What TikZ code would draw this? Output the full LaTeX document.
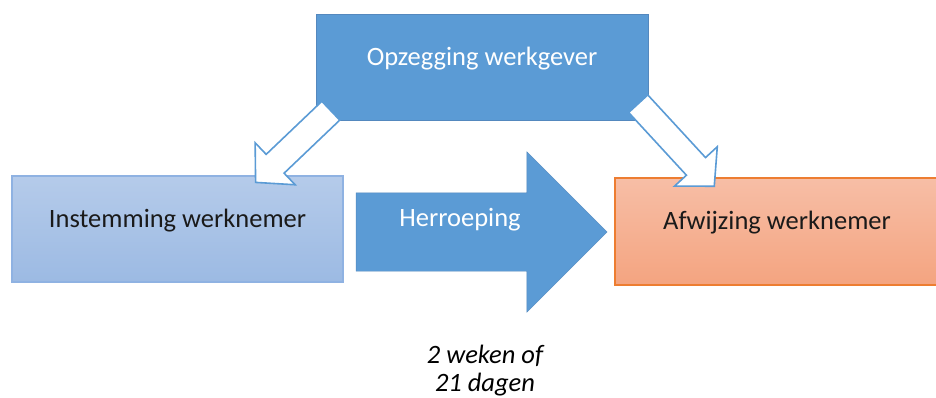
\documentclass[tikz,border=0pt]{standalone}
\usepackage{fontspec}
\setmainfont{Carlito}
\usetikzlibrary{arrows.meta, positioning, shapes.arrows, calc}
\definecolor{oBlue}    {RGB}{91,155,213}
\definecolor{oBlueDk}  {RGB}{84,136,190}
\definecolor{lBlueTop} {RGB}{181,203,234}
\definecolor{lBlueBot} {RGB}{156,186,227}
\definecolor{lBlueLine}{RGB}{143,178,226}
\definecolor{lOrTop}   {RGB}{247,190,166}
\definecolor{lOrBot}   {RGB}{244,164,128}
\definecolor{dkOrange} {RGB}{237,125,49}
\definecolor{txtGray}  {RGB}{26,26,26}

% hollow block arrow from tail middle #1 to tip #2
\newcommand{\hollowarrow}[2]{%
  \coordinate (hb) at ($(#2)!27pt!(#1)$);
  \filldraw[HOL] ($(#1)!13pt!90:(#2)$) -- ($(hb)!13pt!90:(#2)$) -- ($(hb)!29pt!90:(#2)$) -- (#2)
    -- ($(hb)!29pt!-90:(#2)$) -- ($(hb)!13pt!-90:(#2)$) -- ($(#1)!13pt!-90:(#2)$) -- cycle;
}

\begin{document}
\begin{tikzpicture}[x=1pt, y=-1pt, font=\fontsize{26.5}{28}\selectfont,
    BOX/.style={minimum height=106pt, inner sep=0pt, text height=18pt, text depth=22pt},
    HOL/.style={fill=white, draw=oBlue, line width=1.6pt, line join=miter}]
    \useasboundingbox (0,0) rectangle (936,398);
    \node[BOX, fill=oBlue, draw=oBlueDk, minimum width=332pt, text=white] (opzeg) at (482,67.5) {Opzegging werkgever};
    \node[BOX, top color=lBlueTop, bottom color=lBlueBot, draw=lBlueLine, line width=1.2pt, minimum width=331pt, text=txtGray] (instem) at (177.5,229) {Instemming werknemer};
    \node[BOX, top color=lOrTop, bottom color=lOrBot, draw=dkOrange, line width=1.5pt, minimum width=324pt, minimum height=107pt, text=txtGray] (afwijz) at (777,231.5) {Afwijzing werknemer};
    \node[single arrow, fill=oBlue, draw=oBlueDk, single arrow head extend=41pt, inner xsep=0pt, inner ysep=39pt, minimum height=251pt] (herroep) at (462,232) {};
    \node[text=white] (herrlbl) at (460,219.5) {Herroeping};
    \node[font=\fontsize{26.5}{28}\selectfont\itshape, align=center] (termijn) at (485,370.5) {2 weken of\\21 dagen};
    % hollow arrows from the top box
    \coordinate (ltail) at ($(opzeg.south west)+(15,-10)$);
    \coordinate (ltip)  at ($(instem.north east)+(-88,7)$);
    \coordinate (rtail) at ($(opzeg.south east)+(-10,-17)$);
    \coordinate (rtip)  at ($(afwijz.north west)+(100,9)$);
    \hollowarrow{ltail}{ltip}
    \hollowarrow{rtail}{rtip}
\end{tikzpicture}
\end{document}
